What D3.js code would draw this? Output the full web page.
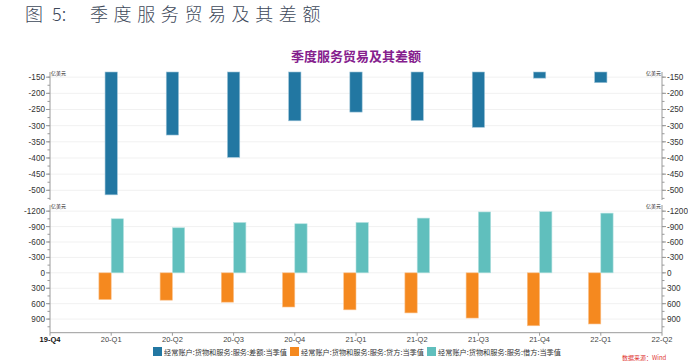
<!DOCTYPE html>
<html>
<head>
<meta charset="utf-8">
<script src="https://cdn.jsdelivr.net/npm/d3@7"></script>
<style>
  body { margin: 0; background: #fff; }
  svg { display: block; font-family: "Liberation Sans", "Noto Sans CJK SC", sans-serif; }
</style>
</head>
<body>
<script>
// quarters on the x axis (first and last are only axis ends)
var quarters = ["19-Q4", "20-Q1", "20-Q2", "20-Q3", "20-Q4", "21-Q1", "21-Q2", "21-Q3", "21-Q4", "22-Q1", "22-Q2"];
var barQuarters = ["20-Q1", "20-Q2", "20-Q3", "20-Q4", "21-Q1", "21-Q2", "21-Q3", "21-Q4", "22-Q1"];

// 亿美元
var balance = [-514, -329, -398, -285, -258, -284, -305, -153, -167];
var credit = [520, 532, 571, 665, 720, 780, 880, 1030, 995];
var debit = [-1052, -877, -980, -955, -980, -1065, -1185, -1190, -1162];

var topTicks = [-150, -200, -250, -300, -350, -400, -450, -500];
var bottomTicks = [-1200, -900, -600, -300, 0, 300, 600, 900];

var legendNames = ["经常账户:货物和服务:服务:差额:当季值", "经常账户:货物和服务:服务:贷方:当季值", "经常账户:货物和服务:服务:借方:当季值"];
var colors = ["#2277a2", "#f5891f", "#60bfbd"];

var width = 688, height = 361;
var left = 50, right = 662;

var svg = d3.select("body").append("svg")
    .attr("width", width)
    .attr("height", height);

// header
var head = svg.append("g")
    .attr("fill", "#3d4859")
    .style("font-family", "'Noto Sans CJK SC', sans-serif")
    .style("font-weight", 300)
    .style("font-size", "18px");
head.append("text").attr("x", 25).attr("y", 21).text("图");
head.append("text").attr("x", 52).attr("y", 21).text("5:");
head.append("text").attr("x", 90).attr("y", 21)
    .style("letter-spacing", "5.6px")
    .text("季度服务贸易及其差额");

// chart title
svg.append("text")
    .attr("x", 356).attr("y", 61)
    .attr("text-anchor", "middle")
    .attr("fill", "#85208d")
    .style("font-family", "'Noto Sans CJK SC', sans-serif")
    .style("font-weight", "bold")
    .style("font-size", "13px")
    .text("季度服务贸易及其差额");

// scales
var x = d3.scalePoint().domain(quarters).range([left, right]);
var yTop = d3.scaleLinear().domain([-530, -134]).range([200, 72]);
var yBot = d3.scaleLinear().domain([-1320, 1165]).range([205, 332.7]);
var barW = 12.3;

function drawPanel(y, ticks, minorStep) {
  var g = svg.append("g");
  var lo = d3.min(y.domain()), hi = d3.max(y.domain());
  var minor = d3.range(Math.ceil(lo / minorStep) * minorStep, hi, minorStep);

  // grid
  g.selectAll(".grid").data(ticks).enter().append("line")
      .attr("x1", left).attr("x2", right)
      .attr("y1", function(d) { return y(d); })
      .attr("y2", function(d) { return y(d); })
      .attr("stroke", "#f1f1f1");

  [[left, -1], [right, 1]].forEach(function(side) {
    var ax = side[0], dir = side[1];
    g.append("line")
        .attr("x1", ax).attr("x2", ax)
        .attr("y1", y.range()[0]).attr("y2", y.range()[1])
        .attr("stroke", "#9a9a9a");
    g.selectAll(null).data(minor).enter().append("line")
        .attr("x1", ax).attr("x2", ax + dir * 2.5)
        .attr("y1", function(d) { return y(d); })
        .attr("y2", function(d) { return y(d); })
        .attr("stroke", "#9a9a9a");
    g.selectAll(null).data(ticks).enter().append("line")
        .attr("x1", ax).attr("x2", ax + dir * 4)
        .attr("y1", function(d) { return y(d); })
        .attr("y2", function(d) { return y(d); })
        .attr("stroke", "#9a9a9a");
    g.selectAll(null).data(ticks).enter().append("text")
        .attr("x", ax + dir * 5)
        .attr("y", function(d) { return y(d) + 3; })
        .attr("text-anchor", dir < 0 ? "end" : "start")
        .attr("fill", "#333")
        .style("font-size", "8.2px")
        .text(function(d) { return d; });
    g.append("text")
        .attr("x", dir < 0 ? ax + 1 : ax - 1)
        .attr("y", d3.min(y.range()) + 3)
        .attr("text-anchor", dir < 0 ? "start" : "end")
        .attr("fill", "#222")
        .style("font-family", "'Noto Sans CJK SC', sans-serif")
        .style("font-size", "5px")
        .text("亿美元");
  });
  return g;
}

var topG = drawPanel(yTop, topTicks, 25);
var botG = drawPanel(yBot, bottomTicks, 150);

// difference bars, from 0 (clipped at top of panel)
topG.selectAll(".bal").data(balance).enter().append("rect")
    .attr("x", function(d, i) { return x(barQuarters[i]) - barW / 2; })
    .attr("y", yTop.range()[1])
    .attr("width", barW)
    .attr("height", function(d) { return yTop(d) - yTop.range()[1]; })
    .attr("fill", colors[0])
    .attr("stroke", "#9cc3d8").attr("stroke-width", 0.6);

// credit and debit bars
botG.selectAll(".cr").data(credit).enter().append("rect")
    .attr("x", function(d, i) { return x(barQuarters[i]) - barW; })
    .attr("y", yBot(0))
    .attr("width", barW)
    .attr("height", function(d) { return yBot(d) - yBot(0); })
    .attr("fill", colors[1])
    .attr("stroke", "#fbc28d").attr("stroke-width", 0.6);

botG.selectAll(".db").data(debit).enter().append("rect")
    .attr("x", function(d, i) { return x(barQuarters[i]); })
    .attr("y", function(d) { return yBot(d); })
    .attr("width", barW)
    .attr("height", function(d) { return yBot(0) - yBot(d); })
    .attr("fill", colors[2])
    .attr("stroke", "#b5e2e1").attr("stroke-width", 0.6);

// x axis
var xg = svg.append("g");
var axisY = 332.7;
xg.append("line")
    .attr("x1", left).attr("x2", right)
    .attr("y1", axisY).attr("y2", axisY)
    .attr("stroke", "#9a9a9a");
xg.selectAll(null).data(quarters).enter().append("line")
    .attr("x1", function(d) { return x(d); })
    .attr("x2", function(d) { return x(d); })
    .attr("y1", axisY).attr("y2", axisY + 3)
    .attr("stroke", "#9a9a9a");
xg.selectAll(null).data(quarters).enter().append("text")
    .attr("x", function(d) { return x(d); })
    .attr("y", 342)
    .attr("text-anchor", "middle")
    .attr("fill", function(d, i) { return i == 0 ? "#111" : "#444"; })
    .style("font-weight", function(d, i) { return i == 0 ? "bold" : "normal"; })
    .style("font-size", "7.5px")
    .text(function(d) { return d; });

// legend
var lg = svg.append("g")
    .style("font-family", "'Noto Sans CJK SC', sans-serif")
    .style("font-size", "7.2px");
var lx = 153;
legendNames.forEach(function(name, i) {
  lg.append("rect")
      .attr("x", lx).attr("y", 347)
      .attr("width", 9).attr("height", 9)
      .attr("fill", colors[i]);
  var t = lg.append("text")
      .attr("x", lx + 11).attr("y", 354.5)
      .attr("fill", "#333")
      .text(name);
  lx += 11 + t.node().getComputedTextLength() + 3;
});

// source note at the bottom edge
svg.append("text")
    .attr("x", 622).attr("y", 359.5)
    .attr("fill", "#e03030")
    .style("font-family", "'Noto Sans CJK SC', sans-serif")
    .style("font-size", "6px")
    .text("数据来源：Wind");
</script>
</body>
</html>
